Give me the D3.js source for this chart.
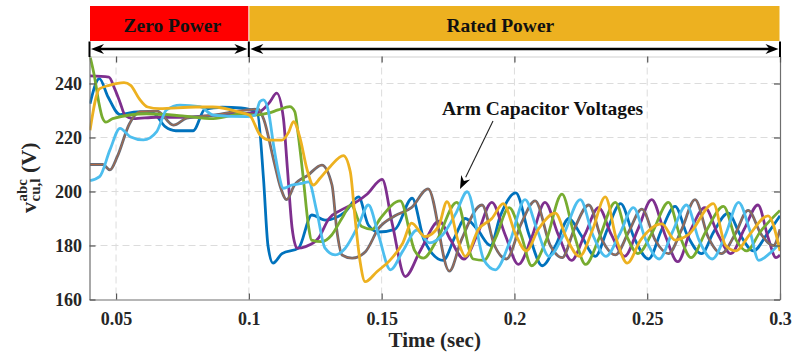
<!DOCTYPE html>
<html>
<head>
<meta charset="utf-8">
<script src="https://cdnjs.cloudflare.com/ajax/libs/d3/7.8.5/d3.min.js"></script>
<style>
  body { margin: 0; background: #fff; }
  svg text { font-family: "Liberation Serif", "Times New Roman", serif; font-weight: bold; }
</style>
</head>
<body>
<svg id="chart" width="794" height="353"></svg>
<script>
// ---- data ----
const xTicks = [0.05, 0.1, 0.15, 0.2, 0.25, 0.3];
const yTicks = [160, 180, 200, 220, 240];
const phaseNames = ["Zero Power", "Rated Power"];
const phaseBounds = [0.04, 0.1, 0.3];

// [time (s), voltage (V)] key points for each arm capacitor voltage
const blueV = [[0.0402,232.5],[0.0437,241.8],[0.047,235],[0.0515,228.5],[0.058,229.5],[0.064,229],[0.0685,224],[0.0725,222.5],[0.079,222.5],[0.0835,230.5],[0.09,231.2],[0.097,231],[0.1032,229],[0.1055,205],[0.1072,180],[0.1091,173.5],[0.1125,177],[0.1187,179],[0.1237,191.3],[0.1287,189.4],[0.1363,192.5],[0.1413,198],[0.145,187.6],[0.1487,185],[0.155,186],[0.1615,197.5],[0.166,182],[0.1732,174.5],[0.1775,183],[0.1815,190],[0.186,186],[0.191,180],[0.1947,191],[0.2005,199.5],[0.2055,184],[0.2105,172.5],[0.2155,180],[0.2205,190],[0.225,184],[0.2305,176],[0.235,186],[0.24,195.5],[0.245,183],[0.2505,175],[0.2555,186],[0.2605,194.5],[0.265,184],[0.2705,177],[0.275,185],[0.2805,192],[0.285,184],[0.29,178],[0.295,184],[0.3,191]];
const grayV = [[0.0402,210],[0.045,210],[0.0477,208],[0.0505,213],[0.055,225],[0.059,229.6],[0.0655,229.8],[0.0716,224.6],[0.0766,227.2],[0.0866,228.3],[0.0992,230.2],[0.1035,230.5],[0.1055,227],[0.1095,211],[0.112,201.3],[0.1142,197],[0.1172,202.4],[0.1222,206],[0.1275,209.8],[0.1313,202.4],[0.1332,185.1],[0.1351,176.5],[0.1389,175.3],[0.1439,177.7],[0.1489,186.4],[0.155,191],[0.1612,194],[0.1675,201],[0.1755,170.5],[0.18,182],[0.1878,195],[0.1925,180],[0.197,175],[0.2025,188],[0.2078,196.5],[0.2135,180],[0.218,175.5],[0.2225,186],[0.228,195],[0.233,182],[0.238,176.5],[0.243,185],[0.248,193.5],[0.253,182],[0.258,177],[0.263,186],[0.268,197],[0.273,183],[0.278,177],[0.283,184],[0.288,193],[0.293,184],[0.2975,180],[0.3,186]];
const purpleV = [[0.0402,242.8],[0.0473,242.4],[0.0495,238],[0.0515,233],[0.0534,228.2],[0.0565,227],[0.065,227.5],[0.075,227.5],[0.085,228],[0.095,228.8],[0.1,229],[0.104,229.5],[0.1078,233],[0.1105,236.4],[0.113,227.2],[0.1145,208.7],[0.1163,186.4],[0.1182,179],[0.1214,179.6],[0.1262,182.7],[0.1302,190],[0.1345,193],[0.1395,195.5],[0.1445,199],[0.1502,204.5],[0.154,188],[0.1589,168.5],[0.1645,178],[0.1717,189],[0.176,182],[0.181,175],[0.186,184],[0.1915,196],[0.1965,184],[0.2015,173],[0.2065,183],[0.2115,196],[0.2165,184],[0.2215,174.5],[0.2265,184],[0.2317,194],[0.2365,184],[0.2415,176],[0.2465,186],[0.2517,197],[0.2567,184],[0.2615,174],[0.2665,186],[0.2717,194],[0.2767,184],[0.2815,177],[0.2865,186],[0.2917,195],[0.2955,183],[0.2985,175.5],[0.3,176.5]];
const greenV = [[0.0402,250],[0.0418,243],[0.0435,233],[0.0448,227.5],[0.0462,225.7],[0.0487,227],[0.0615,228.8],[0.075,228],[0.0866,227],[0.0979,228.8],[0.1022,228.3],[0.1072,229],[0.111,230.2],[0.1154,231.4],[0.1173,229.6],[0.1186,221],[0.1205,204.9],[0.1224,187.6],[0.1236,182],[0.1274,181.4],[0.1312,183.9],[0.135,190],[0.1385,195],[0.1425,187],[0.1465,186],[0.1495,190],[0.157,196.5],[0.1625,178],[0.1657,175.3],[0.1708,182],[0.1783,196],[0.1845,175],[0.1885,174.5],[0.193,183],[0.198,194],[0.2025,184],[0.2065,172.5],[0.212,182],[0.2179,199],[0.2225,184],[0.2268,173],[0.232,183],[0.238,196],[0.2425,183],[0.2465,177],[0.252,185],[0.258,196],[0.2625,183],[0.2665,175.5],[0.272,185],[0.2787,194.5],[0.2835,182],[0.2875,178],[0.2925,185],[0.3,193]];
const lightBlueV = [[0.0402,204],[0.0438,205.5],[0.0477,215.4],[0.0515,223.4],[0.0553,220.3],[0.0603,219.1],[0.0653,222.2],[0.069,230.2],[0.0741,232],[0.0816,231.4],[0.0866,228.3],[0.0992,227.7],[0.1023,228.3],[0.1042,233.3],[0.1055,233.9],[0.1074,229.6],[0.1093,217.2],[0.1111,207.3],[0.113,201.2],[0.1162,202.4],[0.12,203],[0.1225,203.6],[0.1256,192.5],[0.1287,179],[0.1325,176.5],[0.1363,179],[0.1413,187.6],[0.145,195],[0.1488,184],[0.1533,171],[0.158,178],[0.1633,185.7],[0.168,181],[0.173,184],[0.178,192],[0.1822,199.9],[0.1885,174.6],[0.1928,171],[0.1985,182],[0.204,197],[0.2085,186],[0.213,176],[0.2185,184],[0.2248,197],[0.2295,184],[0.2345,176],[0.2395,184],[0.2448,194],[0.2495,182],[0.2545,175],[0.2595,185],[0.2648,195],[0.2695,182],[0.2745,175],[0.2795,184],[0.2844,196],[0.2885,186],[0.292,174.5],[0.296,177],[0.3,181]];
const orangeV = [[0.0402,222.7],[0.0437,238],[0.0474,239.3],[0.053,240.3],[0.0555,239.3],[0.0587,234.4],[0.0619,231.3],[0.0663,230.7],[0.08,231.3],[0.0864,231.3],[0.0965,229.4],[0.1003,228.2],[0.1042,221],[0.108,219],[0.1124,219],[0.115,222],[0.1168,225.9],[0.1193,219.7],[0.1218,208.6],[0.1243,202.4],[0.1268,204.9],[0.1306,209.2],[0.1356,213.3],[0.1382,207.3],[0.14,190],[0.1419,174],[0.1438,166.6],[0.1482,170.3],[0.1532,174.6],[0.158,181],[0.1613,188.3],[0.1663,183.3],[0.1714,187],[0.1746,196.2],[0.179,181],[0.1815,176],[0.1865,186],[0.1915,190],[0.1958,195.5],[0.2005,184],[0.2045,178],[0.209,186],[0.2154,192],[0.2195,183],[0.2245,176],[0.2295,186],[0.2342,198],[0.2385,182],[0.2425,173.5],[0.2475,182],[0.2555,188],[0.2605,182],[0.2655,184],[0.2749,195.5],[0.2795,180],[0.2835,178],[0.2885,184],[0.2955,191],[0.3,178]];

const series = [
  { values: blueV, color: "#0072BD" },
  { values: purpleV, color: "#7E2F8E" },
  { values: grayV, color: "#676c78", core: "#b8693f" },
  { values: greenV, color: "#77AC30" },
  { values: lightBlueV, color: "#4DBEEE" },
  { values: orangeV, color: "#EDB120" }
];

// ---- layout ----
const svg = d3.select("#chart");
const x = d3.scaleLinear().domain([0.04, 0.3]).range([89.5, 780]);
const y = d3.scaleLinear().domain([160, 250]).range([299.5, 56.5]);
const [x0, x1] = x.range();
const [yb, yt] = y.range();

svg.append("rect").attr("width", 794).attr("height", 353).attr("fill", "#fff");

// dashed grid
svg.append("g").selectAll("line").data(xTicks.filter(d => d < 0.3)).join("line")
  .attr("x1", d => x(d)).attr("x2", d => x(d)).attr("y1", yt).attr("y2", yb)
  .attr("stroke", "#dcdcdc").attr("stroke-dasharray", "7,4");
svg.append("g").selectAll("line").data(yTicks.filter(d => d > 160)).join("line")
  .attr("x1", x0).attr("x2", x1).attr("y1", d => y(d)).attr("y2", d => y(d))
  .attr("stroke", "#dcdcdc").attr("stroke-dasharray", "7,4");

// curves
svg.append("clipPath").attr("id", "plot").append("rect")
  .attr("x", x0).attr("y", yt - 2).attr("width", x1 - x0).attr("height", yb - yt + 2);
const line = d3.line().x(d => x(d[0])).y(d => y(d[1])).curve(d3.curveMonotoneX);
const lines = svg.append("g").attr("clip-path", "url(#plot)").attr("fill", "none");
series.forEach(s => {
  lines.append("path").attr("d", line(s.values)).attr("stroke", s.color)
    .attr("stroke-width", 2.8).attr("stroke-linejoin", "round");
  if (s.core) {
    lines.append("path").attr("d", line(s.values)).attr("stroke", s.core).attr("stroke-width", 0.9);
  }
});

// axes (MATLAB style, inward ticks, box)
function styleAxis(g) {
  g.select(".domain").attr("stroke", "#6e6e6e").attr("stroke-width", 1.2);
  g.selectAll(".tick line").attr("stroke", "#555").attr("stroke-width", 1.2);
  g.selectAll("text").attr("fill", "#262626").style("font-size", "18px");
}
svg.append("g").attr("transform", `translate(0,${yb})`)
  .call(d3.axisBottom(x).tickValues(xTicks).tickFormat(d => String(d)).tickSizeInner(-6).tickSizeOuter(0).tickPadding(12.5))
  .call(styleAxis);
svg.append("g").attr("transform", `translate(${x0},0)`)
  .call(d3.axisLeft(y).tickValues(yTicks).tickSizeInner(-6).tickSizeOuter(0).tickPadding(7.5))
  .call(styleAxis);
svg.append("g").attr("transform", `translate(${x1},0)`)
  .call(d3.axisRight(y).tickValues(yTicks).tickFormat("").tickSizeInner(-6).tickSizeOuter(0))
  .call(styleAxis);
svg.append("g").attr("transform", `translate(0,${yt})`)
  .call(d3.axisTop(x).tickValues(xTicks).tickFormat("").tickSizeInner(-6).tickSizeOuter(0))
  .call(styleAxis)
  .call(g => g.select(".domain").attr("stroke", "#cfcfcf"));

// axis titles
svg.append("text").attr("x", (x0 + x1) / 2).attr("y", 347).attr("text-anchor", "middle")
  .style("font-size", "21px").attr("fill", "#262626").text("Time (sec)");
const yl = svg.append("g").attr("transform", "translate(36,213) rotate(-90)").attr("fill", "#262626");
yl.append("text").attr("x", 0).attr("y", 0).style("font-size", "22px").text("v");
yl.append("text").attr("x", 11.5).attr("y", -9).style("font-size", "15px").text("abc");
yl.append("text").attr("x", 11.5).attr("y", 4).style("font-size", "15px").text("cu,l");
yl.append("text").attr("x", 40).attr("y", 0).style("font-size", "22px").text("(V)");

// phase banners
const bannerColors = ["#FF0000", "#EDB120"];
const bannerTextX = [123.5, 446.5];
phaseNames.forEach((name, i) => {
  const a = x(phaseBounds[i]), b = x(phaseBounds[i + 1]);
  svg.append("rect").attr("x", a + 0.5).attr("y", 6).attr("width", b - a - 1).attr("height", 35)
    .attr("fill", bannerColors[i]);
  svg.append("text").attr("x", bannerTextX[i]).attr("y", 31.5).style("font-size", "19.5px")
    .attr("fill", "#111").text(name);
});

// span arrows
const ay = 49;
function head(tip, dir) {
  const p = d3.path();
  p.moveTo(tip, ay);
  p.lineTo(tip + dir * 13, ay - 5);
  p.lineTo(tip + dir * 9, ay);
  p.lineTo(tip + dir * 13, ay + 5);
  p.closePath();
  svg.append("path").attr("d", p.toString()).attr("fill", "#000");
}
phaseBounds.forEach(t => {
  svg.append("line").attr("x1", x(t)).attr("x2", x(t)).attr("y1", 41.5).attr("y2", 57)
    .attr("stroke", "#000").attr("stroke-width", 2);
});
for (let i = 0; i < phaseNames.length; i++) {
  const a = x(phaseBounds[i]) + 1.5, b = x(phaseBounds[i + 1]) - 1.5;
  svg.append("line").attr("x1", a + 6).attr("x2", b - 6).attr("y1", ay).attr("y2", ay)
    .attr("stroke", "#000").attr("stroke-width", 2.6);
  head(a, 1);
  head(b, -1);
}

// annotation
svg.append("text").attr("x", 442).attr("y", 115).style("font-size", "19.5px").attr("fill", "#111")
  .text("Arm Capacitor Voltages");
const tip = [460, 189], tail = [493, 121];
const ang = Math.atan2(tip[1] - tail[1], tip[0] - tail[0]);
const hl = 13, hw = 5;
const bx = tip[0] - hl * Math.cos(ang), by = tip[1] - hl * Math.sin(ang);
svg.append("line").attr("x1", tail[0]).attr("y1", tail[1]).attr("x2", bx).attr("y2", by)
  .attr("stroke", "#222").attr("stroke-width", 1.1);
svg.append("path")
  .attr("d", `M${tip[0]},${tip[1]}L${bx + hw * Math.sin(ang)},${by - hw * Math.cos(ang)}L${tip[0] - 9 * Math.cos(ang)},${tip[1] - 9 * Math.sin(ang)}L${bx - hw * Math.sin(ang)},${by + hw * Math.cos(ang)}Z`)
  .attr("fill", "#000");
</script>
</body>
</html>
